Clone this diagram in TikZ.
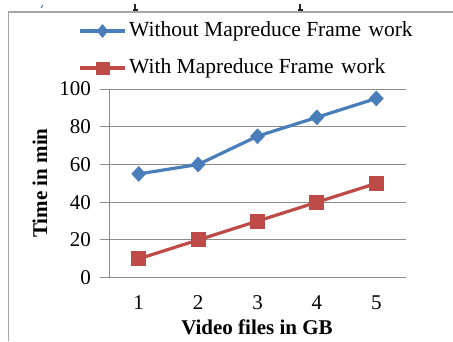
\documentclass[tikz,border=0pt]{standalone}
\usepackage{fontspec}
\setmainfont{Liberation Serif}
\usetikzlibrary{shapes.geometric}
\definecolor{serA}{RGB}{74,126,187}
\definecolor{serB}{RGB}{190,75,72}
\definecolor{gridc}{RGB}{140,140,140}
\definecolor{framec}{RGB}{165,165,165}
\tikzset{
  lbl/.style={font=\fontsize{21}{21}\selectfont, inner sep=0pt},
  leg/.style={font=\fontsize{21.5}{21.5}\selectfont, inner sep=0pt},
  ttl/.style={font=\fontsize{21}{21}\selectfont\bfseries, inner sep=0pt},
  gline/.style={draw=gridc, line width=1pt},
  serieA/.style={draw=serA, line width=3.2pt, line join=round},
  serieB/.style={draw=serB, line width=3.2pt, line join=round},
  dmark/.style={diamond, fill=serA, draw=none, minimum width=15pt, minimum height=16pt, inner sep=0pt},
  smark/.style={rectangle, fill=serB, draw=none, minimum width=15pt, minimum height=15pt, inner sep=0pt},
  stub/.style={draw=black!85, line width=1.6pt}
}
\begin{document}
\begin{tikzpicture}[x=1pt,y=-1pt]
\useasboundingbox (0,0) rectangle (453,341);
% outer chart frame (left and top edges)
\draw[framec, line width=1.5pt] (8.5,341) -- (8.5,12) -- (453,12);
% remnants above the frame
\draw[stub] (135,4) -- (135,10) (132.5,10) -- (137.5,10);
\draw[stub] (300,4) -- (300,10) (297.5,10) -- (302.5,10);
\draw[serA, line width=1pt] (41,8) -- (43,5);

% value axis: y(v) = 277.7 - 1.887 v
\foreach \v in {0,20,...,100}{
  \pgfmathsetmacro{\yy}{277.7-1.887*\v}
  \draw[gline] (100,\yy) -- (406,\yy);
  \node[lbl, anchor=east] (yl\v) at (91,\yy) {\v};
}
\draw[gline] (109,89) -- (109,277.7);

% category labels: x(i) = 109 + 59.4 (i - 0.5)
\foreach \i in {1,...,5}{
  \pgfmathsetmacro{\xx}{109+59.4*(\i-0.5)}
  \node[lbl] (xl\i) at (\xx,302.5) {\i};
}

% axis titles
\node[ttl, rotate=90] (ytitle) at (40,183) {Time in min};
\node[ttl] (xtitle) at (257,327.5) {Video files in GB};

% data points
\foreach \i/\a/\b in {1/55/10,2/60/20,3/75/30,4/85/40,5/95/50}{
  \pgfmathsetmacro{\xx}{109+59.4*(\i-0.5)}
  \pgfmathsetmacro{\ya}{277.7-1.887*\a}
  \pgfmathsetmacro{\yb}{277.7-1.887*\b}
  \coordinate (a\i) at (\xx,\ya);
  \coordinate (b\i) at (\xx,\yb);
}
\draw[serieA] (a1) -- (a2) -- (a3) -- (a4) -- (a5);
\draw[serieB] (b1) -- (b2) -- (b3) -- (b4) -- (b5);
\foreach \i in {1,...,5}{
  \node[dmark] (ma\i) at (a\i) {};
  \node[smark] (mb\i) at (b\i) {};
}

% legend
\coordinate (la0) at (80,31);
\coordinate (la1) at (125,31);
\coordinate (lb0) at (80,68);
\coordinate (lb1) at (125,68);
\draw[serieA] (la0) -- (la1);
\draw[serieB] (lb0) -- (lb1);
\node[dmark, minimum width=12pt, minimum height=14pt] (lma) at (102.5,31) {};
\node[smark, minimum width=14pt, minimum height=13pt] (lmb) at (102.5,68) {};
\node[leg, anchor=west] (lta) at (129,31) {Without Mapreduce Frame\hspace{2pt} work};
\node[leg, anchor=west] (ltb) at (129,68) {With Mapreduce Frame\hspace{2pt} work};
\end{tikzpicture}
\end{document}
